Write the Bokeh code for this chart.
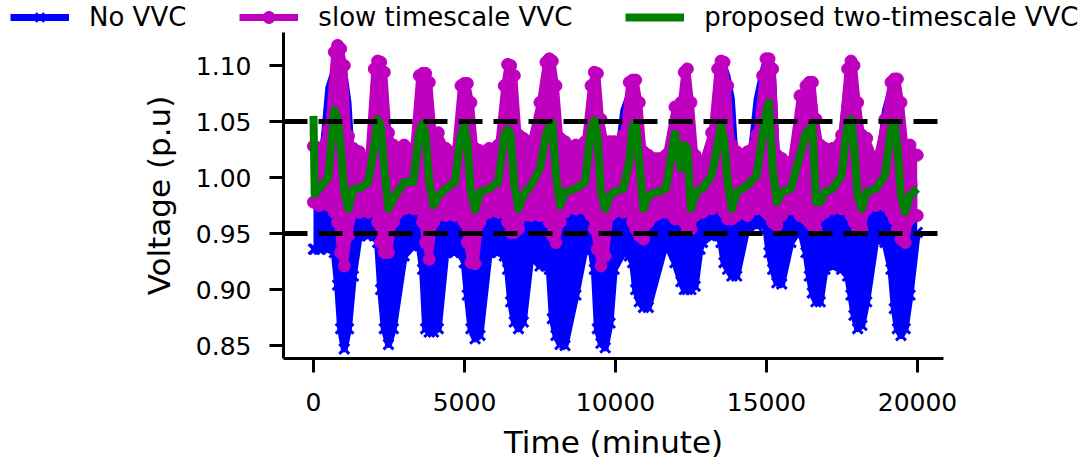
from bokeh.plotting import figure
from bokeh.models import (Range1d, FixedTicker, PrintfTickFormatter, Span,
                          Legend, LegendItem, ColumnDataSource)
from bokeh.embed import file_html
from bokeh.resources import INLINE

# Time (minute) of the sampled points, one row per day
time_min = [
    0, 40, 189, 489, 689, 799, 899, 1019, 1159, 1319,
    1514, 1814, 2014, 2124, 2224, 2344, 2484, 2644,
    3003, 3303, 3503, 3613, 3713, 3833, 3973, 4133,
    4383, 4683, 4883, 4993, 5093, 5213, 5353, 5513,
    5818, 6118, 6318, 6428, 6528, 6648, 6788, 6948,
    7198, 7498, 7698, 7808, 7908, 8028, 8168, 8328,
    8689, 8989, 9189, 9299, 9399, 9519, 9659, 9819,
    9957, 10257, 10457, 10567, 10667, 10787, 10927, 11087,
    11668, 11968, 12168, 12278, 12378, 12498, 12638, 12798,
    12883, 13183, 13383, 13493, 13593, 13713, 13853, 14013,
    14373, 14673, 14873, 14983, 15083, 15203, 15343, 15503,
    15808, 16108, 16308, 16418, 16518, 16638, 16778, 16938,
    17187, 17487, 17687, 17797, 17897, 18017, 18157, 18317,
    18622, 18922, 19122, 19232, 19332, 19452, 19592, 19752, 19990,
]

# No VVC: upper and lower envelope of the bus voltages (p.u)
no_vvc_upper = [
    0.990, 0.990, 0.990, 1.080, 1.097, 1.097, 1.097, 1.094, 1.067, 0.995,
    0.995, 0.995, 1.090, 1.095, 1.090, 1.085, 1.030, 0.995,
    0.995, 0.995, 1.080, 1.085, 1.085, 1.075, 1.030, 0.995,
    0.995, 1.000, 1.075, 1.078, 1.078, 1.060, 1.000, 0.995,
    0.995, 1.000, 1.070, 1.090, 1.090, 1.080, 1.030, 0.995,
    0.995, 1.050, 1.095, 1.095, 1.090, 1.070, 1.020, 0.995,
    0.995, 1.000, 1.070, 1.085, 1.085, 1.040, 1.000, 0.995,
    0.995, 1.060, 1.075, 1.075, 1.070, 1.060, 1.000, 0.995,
    0.995, 1.050, 1.060, 1.085, 1.085, 1.060, 1.000, 0.995,
    0.995, 1.030, 1.095, 1.100, 1.100, 1.090, 1.070, 1.000,
    0.995, 1.070, 1.095, 1.106, 1.106, 1.100, 1.020, 0.995,
    0.995, 1.070, 1.075, 1.080, 1.080, 1.050, 1.000, 0.995,
    0.995, 1.040, 1.090, 1.095, 1.090, 1.060, 1.020, 0.995,
    0.995, 1.060, 1.080, 1.080, 1.080, 1.060, 1.010, 0.995, 0.995,
]
no_vvc_lower = [
    0.936, 0.936, 0.936, 0.936, 0.933, 0.904, 0.865, 0.847, 0.865, 0.912,
    0.948, 0.948, 0.948, 0.942, 0.900, 0.865, 0.851, 0.865,
    0.930, 0.939, 0.939, 0.918, 0.865, 0.862, 0.862, 0.865,
    0.933, 0.933, 0.933, 0.924, 0.895, 0.865, 0.856, 0.859,
    0.933, 0.933, 0.930, 0.918, 0.889, 0.871, 0.865, 0.871,
    0.930, 0.921, 0.921, 0.918, 0.874, 0.859, 0.851, 0.850,
    0.895, 0.936, 0.936, 0.918, 0.865, 0.852, 0.848, 0.870,
    0.918, 0.933, 0.930, 0.924, 0.900, 0.889, 0.884, 0.884,
    0.942, 0.924, 0.907, 0.900, 0.900, 0.900, 0.903, 0.936,
    0.942, 0.948, 0.948, 0.942, 0.924, 0.918, 0.912, 0.912,
    0.957, 0.957, 0.960, 0.954, 0.933, 0.918, 0.906, 0.905,
    0.942, 0.954, 0.933, 0.912, 0.897, 0.889, 0.889, 0.918,
    0.921, 0.918, 0.912, 0.895, 0.877, 0.865, 0.868, 0.889,
    0.945, 0.942, 0.918, 0.883, 0.865, 0.859, 0.865, 0.895, 0.951,
]

# slow timescale VVC: upper and lower envelope (p.u)
slow_upper = [
    1.028, 1.028, 1.025, 1.043, 1.112, 1.118, 1.115, 1.100, 1.037, 1.026,
    1.023, 1.017, 1.097, 1.104, 1.103, 1.094, 1.040, 1.029,
    1.029, 1.026, 1.091, 1.093, 1.093, 1.085, 1.040, 1.040,
    1.026, 1.023, 1.082, 1.084, 1.084, 1.067, 1.026, 1.024,
    1.026, 1.029, 1.082, 1.101, 1.100, 1.091, 1.038, 1.035,
    1.032, 1.067, 1.103, 1.106, 1.104, 1.082, 1.035, 1.032,
    1.029, 1.032, 1.082, 1.094, 1.093, 1.052, 1.032, 1.032,
    1.032, 1.038, 1.085, 1.087, 1.087, 1.067, 1.023, 1.020,
    1.020, 1.063, 1.067, 1.094, 1.097, 1.067, 1.020, 1.014,
    1.014, 1.040, 1.097, 1.104, 1.103, 1.082, 1.029, 1.023,
    1.023, 1.038, 1.091, 1.106, 1.106, 1.097, 1.020, 1.017,
    1.014, 1.073, 1.082, 1.085, 1.085, 1.052, 1.029, 1.026,
    1.026, 1.038, 1.097, 1.104, 1.100, 1.067, 1.038, 1.035,
    1.014, 1.052, 1.085, 1.088, 1.088, 1.067, 1.029, 1.029, 1.020,
]
slow_lower = [
    0.978, 0.978, 0.975, 0.975, 0.969, 0.960, 0.933, 0.921, 0.948, 0.969,
    0.969, 0.969, 0.972, 0.960, 0.942, 0.933, 0.933, 0.960,
    0.972, 0.972, 0.972, 0.960, 0.942, 0.927, 0.960, 0.966,
    0.966, 0.966, 0.969, 0.960, 0.942, 0.924, 0.923, 0.960,
    0.969, 0.969, 0.969, 0.960, 0.951, 0.951, 0.954, 0.966,
    0.966, 0.966, 0.966, 0.960, 0.948, 0.942, 0.960, 0.969,
    0.972, 0.972, 0.966, 0.954, 0.936, 0.921, 0.930, 0.966,
    0.969, 0.969, 0.969, 0.960, 0.954, 0.948, 0.945, 0.960,
    0.969, 0.963, 0.963, 0.960, 0.954, 0.954, 0.966, 0.969,
    0.969, 0.972, 0.978, 0.975, 0.969, 0.963, 0.963, 0.966,
    0.966, 0.972, 0.972, 0.969, 0.966, 0.960, 0.957, 0.966,
    0.972, 0.966, 0.963, 0.960, 0.957, 0.954, 0.966, 0.969,
    0.972, 0.972, 0.972, 0.966, 0.960, 0.954, 0.954, 0.972,
    0.975, 0.975, 0.969, 0.963, 0.954, 0.945, 0.942, 0.963, 0.966,
]

# proposed two-timescale VVC (p.u)
proposed = [
    1.055, 0.985, 0.990, 1.000, 1.060, 1.052, 1.028, 0.987, 0.972, 0.990,
    0.990, 0.996, 1.028, 1.052, 1.046, 1.008, 0.972, 0.981,
    0.996, 0.996, 1.040, 1.048, 1.038, 0.996, 0.975, 0.984,
    0.990, 0.996, 1.038, 1.046, 1.031, 0.987, 0.971, 0.987,
    0.990, 0.996, 1.038, 1.043, 1.038, 0.993, 0.972, 0.984,
    0.993, 1.008, 1.038, 1.046, 1.049, 1.002, 0.975, 0.987,
    0.990, 0.996, 1.043, 1.051, 1.038, 0.987, 0.972, 0.984,
    0.987, 0.990, 1.014, 1.046, 1.049, 1.014, 0.972, 0.984,
    0.990, 1.039, 1.008, 1.029, 1.026, 0.972, 0.984, 0.990,
    0.990, 1.002, 1.029, 1.046, 1.035, 0.996, 0.972, 0.987,
    0.993, 1.002, 1.038, 1.058, 1.067, 1.008, 0.978, 0.987,
    0.990, 1.020, 1.040, 1.043, 1.046, 0.978, 0.978, 0.987,
    0.990, 1.002, 1.049, 1.052, 1.029, 0.984, 0.972, 0.987,
    0.990, 1.002, 1.043, 1.049, 1.029, 0.984, 0.969, 0.984, 0.990,
]

series_labels = ["No VVC", "slow timescale VVC", "proposed two-timescale VVC"]
limit_levels = [0.95, 1.05]
x_ticks = [0, 5000, 10000, 15000, 20000]
y_ticks = [0.85, 0.90, 0.95, 1.00, 1.05, 1.10]

BLUE = "#0000ff"
MAGENTA = "#bf00bf"
GREEN = "#008000"
FONT = "DejaVu Sans"

src = ColumnDataSource(dict(t=time_min, bu=no_vvc_upper, bl=no_vvc_lower,
                            su=slow_upper, sl=slow_lower, g=proposed))


def add_series(fig):
    """Draw the three series on fig; return the renderers used for the legend."""
    fig.varea(x="t", y1="bl", y2="bu", source=src, fill_color=BLUE)
    b_lo = fig.line("t", "bl", source=src, line_color=BLUE, line_width=7, line_join="round")
    fig.line("t", "bu", source=src, line_color=BLUE, line_width=6, line_join="round")
    b_mk = fig.scatter("t", "bl", source=src, marker="x", size=14,
                       line_color=BLUE, line_width=3)
    fig.varea(x="t", y1="sl", y2="su", source=src, fill_color=MAGENTA)
    m_lo = fig.line("t", "sl", source=src, line_color=MAGENTA, line_width=7, line_join="round")
    fig.line("t", "su", source=src, line_color=MAGENTA, line_width=6, line_join="round")
    m_mk = fig.scatter("t", "su", source=src, marker="circle", size=12,
                       fill_color=MAGENTA, line_color=MAGENTA)
    fig.scatter("t", "sl", source=src, marker="circle", size=12,
                fill_color=MAGENTA, line_color=MAGENTA)
    g_ln = fig.line("t", "g", source=src, line_color=GREEN, line_width=8, line_join="round")
    return b_lo, b_mk, m_lo, m_mk, g_ln


# ---- main plot ----
p = figure(width=1089, height=430, output_backend="svg", toolbar_location=None,
           x_range=Range1d(-993, 20860), y_range=Range1d(0.8384, 1.1295),
           min_border_left=283, min_border_right=146, min_border_top=0,
           min_border_bottom=104)
p.outline_line_color = None
p.background_fill_color = "white"
p.border_fill_color = "white"
p.xgrid.visible = False
p.ygrid.visible = False

add_series(p)

for lv in limit_levels:
    p.add_layout(Span(location=lv, dimension="width", line_color="black",
                      line_width=5, line_dash="24 11"))

for ax in (p.xaxis[0], p.yaxis[0]):
    ax.axis_line_width = 3
    ax.axis_line_color = "black"
    ax.major_tick_line_width = 3
    ax.major_tick_line_color = "black"
    ax.major_tick_out = 14
    ax.major_tick_in = 0
    ax.minor_tick_line_color = None
    ax.major_label_text_font = FONT
    ax.major_label_text_font_size = "25px"
    ax.major_label_text_color = "black"
    ax.axis_label_text_font = FONT
    ax.axis_label_text_font_size = "31px"
    ax.axis_label_text_font_style = "normal"
    ax.axis_label_text_color = "black"

p.xaxis.ticker = FixedTicker(ticks=x_ticks)
p.yaxis.ticker = FixedTicker(ticks=y_ticks)
p.xaxis.formatter = PrintfTickFormatter(format="%d")
p.yaxis.formatter = PrintfTickFormatter(format="%.2f")
p.xaxis.major_label_standoff = 20
p.yaxis.major_label_standoff = 18
p.xaxis.axis_label = "Time (minute)"
p.yaxis.axis_label = "Voltage (p.u)"
p.xaxis.axis_label_standoff = 10
p.yaxis.axis_label_standoff = 16

# ---- legend strip above the plot (same series, plotted out of its view) ----
lf = figure(width=1089, height=32, output_backend="svg", toolbar_location=None,
            x_range=Range1d(-3, -2), y_range=Range1d(-3, -2),
            x_axis_type=None, y_axis_type=None,
            min_border=0, min_border_left=0, min_border_right=0,
            min_border_top=0, min_border_bottom=0)
lf.outline_line_color = None
lf.background_fill_color = "white"
lf.border_fill_color = "white"
lf.grid.visible = False
b_lo, b_mk, m_lo, m_mk, g_ln = add_series(lf)

legend = Legend(items=[
    LegendItem(label=series_labels[0], renderers=[b_lo, b_mk]),
    LegendItem(label=series_labels[1], renderers=[m_lo, m_mk]),
    LegendItem(label=series_labels[2], renderers=[g_ln]),
], location=(10, 0), orientation="horizontal")
legend.glyph_width = 59
legend.glyph_height = 30
legend.label_standoff = 20
legend.spacing = 53
legend.padding = 0
legend.margin = 0
legend.border_line_color = None
legend.background_fill_color = None
legend.label_text_font = FONT
legend.label_text_font_size = "26px"
legend.label_text_color = "black"
lf.add_layout(legend)

# two separate roots stacked on the page (no frame alignment between them)
open("out.html", "w").write(file_html([lf, p], INLINE))
